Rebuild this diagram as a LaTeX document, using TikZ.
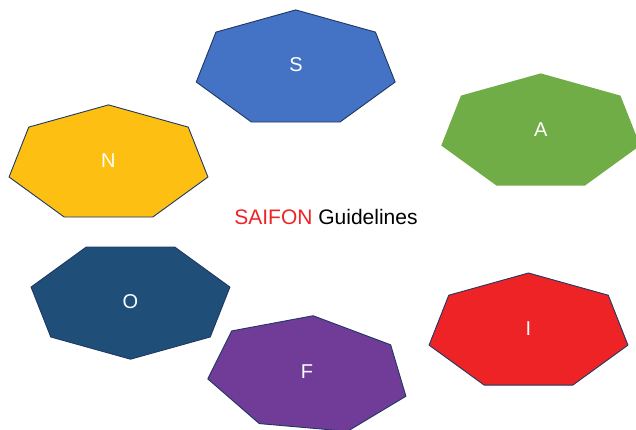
\documentclass[tikz,border=0pt]{standalone}
\usepackage{fontspec}
\setmainfont{Liberation Sans}
\usetikzlibrary{positioning}

\definecolor{sblu}{HTML}{4472C4}
\definecolor{averde}{HTML}{70AD47}
\definecolor{ngiallo}{HTML}{FCBF12}
\definecolor{oblu}{HTML}{1F4E79}
\definecolor{fviola}{HTML}{703C97}
\definecolor{irosso}{HTML}{EE2326}
\definecolor{bordo}{HTML}{1F3864}

\tikzset{
    x=1pt, y=1pt,
    bordo/.style={draw=bordo, line width=0.9pt, line join=miter},
    lettera/.style={text=white, font=\fontsize{20}{24}\selectfont, inner sep=0pt},
    titolo/.style={font=\fontsize{21}{25}\selectfont, inner sep=0pt},
}

% ettagono: centro, rotazione, colore, stile bordo
\newcommand{\ettagono}[4]{%
    \path[fill=#3, #4, shift={(#1)}, rotate=#2]
        (90:102pt and 59pt)
        \foreach \k in {1,...,6} { -- ({90+\k*360/7}:102pt and 59pt) } -- cycle;}

\begin{document}
\begin{tikzpicture}
    \useasboundingbox (0,0) rectangle (636,430);

    % Forme
    \ettagono{295.7,361.1}{0}{sblu}{bordo}
    \ettagono{540.7,297.6}{0}{averde}{draw=none}
    \ettagono{108.5,266.1}{0}{ngiallo}{bordo}
    \ettagono{130.5,129.8}{180}{oblu}{bordo}
    \ettagono{308,55.5}{-5}{fviola}{bordo}
    \ettagono{528.5,98}{0}{irosso}{bordo}

    % Lettere
    \node[lettera] (S) at (296,365) {S};
    \node[lettera] (A) at (540.7,300) {A};
    \node[lettera] (N) at (108.3,269) {N};
    \node[lettera] (O) at (130.3,128.3) {O};
    \node[lettera] (F) at (307,58.3) {F};
    \node[lettera] (I) at (528.3,101.7) {I};

    % Titolo
    \node[titolo] (T) at (326,213) {\textcolor{irosso}{SAIFON} Guidelines};
\end{tikzpicture}
\end{document}
